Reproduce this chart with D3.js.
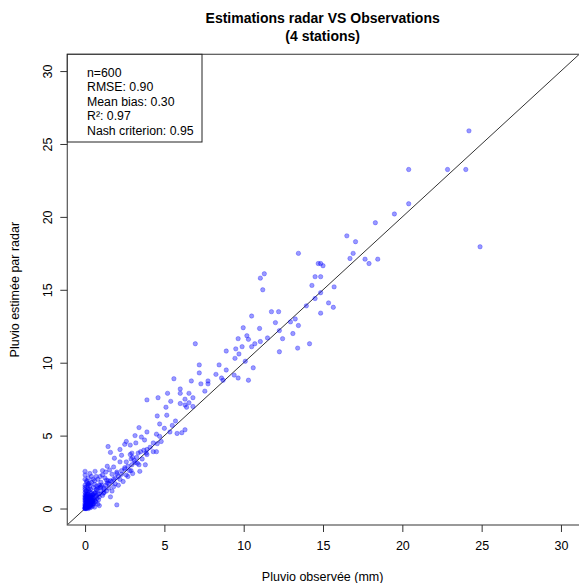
<!DOCTYPE html>
<html>
<head>
<meta charset="utf-8">
<script src="https://cdn.jsdelivr.net/npm/d3@7"></script>
<style>
  body { margin: 0; background: #fff; }
  svg { font-family: "Liberation Sans", Arial, sans-serif; }
</style>
</head>
<body>
<script>
//chart title, axis titles and stats box lines
let titleLines = ["Estimations radar VS Observations", "(4 stations)"];
let xTitle = "Pluvio observée (mm)",
    yTitle = "Pluvio estimée par radar";
let statLines = ["n=600", "RMSE: 0.90", "Mean bias: 0.30", "R²: 0.97", "Nash criterion: 0.95"];

//tick values
let xTicks = [0, 5, 10, 15, 20, 25, 30],
    yTicks = [0, 5, 10, 15, 20, 25, 30];

let obs = [
    24.2, 22.85, 24.0, 20.4, 20.4, 19.5, 18.3, 24.9, 16.5, 17.05, 16.9, 16.7, 17.65, 17.9, 18.45,
    13.45, 14.7, 14.85, 15.0, 14.5, 14.85, 14.3, 15.7, 11.3, 11.05, 11.2, 13.95, 14.5, 14.85, 15.35,
    15.65, 14.85, 11.75, 12.2, 10.5, 12.0, 13.25, 12.95, 13.45, 12.25, 13.1, 11.0, 9.97, 11.5, 12.45,
    14.15, 13.4, 12.25, 9.65, 10.2, 10.3, 10.7, 11.05, 10.5, 9.9, 9.5, 8.9, 9.7, 9.45, 10.1,
    10.6, 10.3, 8.45, 8.9, 8.25, 8.6, 8.7, 9.4, 9.65, 6.95, 7.2, 7.2, 7.75, 7.75, 7.3,
    6.7, 7.55, 6.8, 6.55, 6.0, 6.3, 6.55, 6.4, 5.6, 5.2, 4.6, 6.0,
    3.9, 5.4, 5.1, 6.0, 6.3, 6.8, 4.55, 5.15, 5.7, 4.7, 3.4, 3.9, 6.3, 6.1, 5.8,
    4.5, 4.7, 5.35, 3.15, 3.55, 3.75, 3.2, 2.6, 2.5, 2.85, 4.3, 4.55, 3.9, 3.7, 2.95,
    2.85, 3.35, 3.85, 4.5, 1.45, 1.6, 2.2, 2.3, 1.85, 2.2, 3.25, 3.15, 3.4, 2.95, 3.8,
    3.45, 1.8, 1.55, 2.0, 1.7, 2.3, 2.6, 0.0, 0.0, 0.63, 0.7, 0.95, 1.25, 1.35, 0.27,
    0.52, 1.05, 0.95, 0.74, 1.6, 2.0, 1.15, 1.35, 1.8, 2.1, 2.4,
    2.5, 2.7, 2.9, 3.1, 3.6, 3.9, 4.1, 4.3, 4.8, 5.0, 5.5, 2.2, 1.9, 1.5, 1.2,
    1.0, 0.9, 2.7, 3.0, 1.7, 2.9, 3.3, 0.5, 1.1, 1.4, 0.3, 0.1,
    0, 0, 0, 0, 0, 0, 0, 0, 0, 0, 0.05, 0.05, 0.05, 0.05, 0.05,
    0.05, 0.1, 0.1, 0.1, 0.1, 0.1, 0.1, 0.1, 0.15, 0.15, 0.15, 0.15, 0.2, 0.2, 0.2,
    0.2, 0.2, 0.2, 0.2, 0.25, 0.25, 0.25, 0.25, 0.3, 0.3, 0.3, 0.3, 0.3, 0.3, 0.35,
    0.35, 0.35, 0.4, 0.4, 0.4, 0.4, 0.4, 0.45, 0.45, 0.5, 0.5, 0.5, 0.5, 0.55, 0.6,
    0.6, 0.65, 0.7, 0.75, 0.8, 0.85, 0.9, 1.0, 1.1, 1.2, 0, 0.05, 0.1, 0.15, 0.0,
    0.0, 0.1, 0.2, 0.3, 0.25, 0.35, 0.45, 0.55, 0.65, 0.7, 0.8, 0.0, 0.1, 0.2, 0.3,
    0.4, 0.6, 0.75, 0.9, 1.3, 1.5, 1.45, 1.7, 1.9, 2.1, 0.6, 0.8, 0.9,
    0, 0, 0.05, 0.1, 0.1, 0.15, 0.2, 0.2, 0.25, 0.3, 0.35, 0.4, 0.5, 0.15, 0.05,
    0.25, 0.45, 0.6, 0.7, 0.0, 0.1, 0.3, 0.2, 0.5, 0.35, 1.0, 1.2, 1.4, 1.6, 1.8,
    2.0, 2.3, 2.5, 0.8, 0.6, 1.1, 1.3, 2.6, 2.8, 3.0, 3.5, 0.4, 0.2, 0.1, 0.0
];

//radar estimate (y)
let est = [
    25.9, 23.25, 23.25, 23.25, 20.9, 20.2, 19.6, 17.95, 18.7, 18.3, 17.5, 17.15, 17.1, 16.8, 17.1,
    17.5, 16.8, 16.8, 16.65, 15.9, 15.9, 15.3, 15.2, 16.1, 15.8, 15.0, 13.9, 14.4, 14.8, 14.1,
    13.8, 13.4, 13.5, 13.5, 13.2, 12.75, 13.0, 12.8, 12.55, 12.2, 12.0, 12.35, 12.4, 11.7, 11.65,
    11.3, 11.0, 10.75, 11.65, 11.85, 11.6, 11.3, 11.45, 11.1, 11.1, 10.95, 10.8, 10.6, 10.3, 10.1,
    9.65, 8.8, 9.85, 9.5, 9.2, 8.95, 8.8, 9.15, 8.95, 11.3, 9.85, 9.3, 8.75, 8.55, 8.55,
    8.75, 8.05, 7.6, 7.9, 7.9, 7.5, 7.25, 6.95, 8.9, 7.9, 7.6, 8.2,
    7.45, 7.35, 6.95, 7.2, 7.1, 7.0, 6.35, 6.4, 6.0, 5.8, 5.55, 5.25, 5.4, 5.2, 5.15,
    5.1, 4.95, 5.25, 5.0, 4.9, 4.7, 4.5, 4.6, 4.4, 4.35, 4.5, 4.45, 4.05, 4.0, 3.8,
    3.7, 3.8, 3.8, 3.9, 4.25, 3.85, 4.05, 3.65, 3.45, 3.2, 3.5, 3.15, 3.0, 3.0, 3.0,
    2.55, 2.85, 2.65, 2.5, 2.35, 2.35, 2.3, 2.55, 2.3, 2.55, 2.2, 2.2, 2.1, 1.95, 1.75,
    1.45, 1.6, 1.45, 1.27, 0.8, 0.25, 1.05, 1.2, 1.5, 1.6, 1.85,
    2.7, 2.9, 2.6, 3.3, 3.4, 3.7, 4.2, 3.9, 4.6, 5.5, 5.7, 2.0, 2.1, 1.7, 1.4,
    1.8, 1.0, 2.2, 2.4, 1.2, 3.4, 3.1, 2.0, 2.6, 2.9, 2.4, 1.9,
    0, 0.1, 0.2, 0.35, 0.5, 0.7, 0.9, 1.1, 1.3, 0, 0.05, 0.25, 0.45, 0.6, 0.8,
    1.0, 0, 0.15, 0.3, 0.5, 0.75, 0.95, 1.2, 0.1, 0.4, 0.6, 0.85, 0, 0.2, 0.35,
    0.55, 0.7, 1.0, 1.35, 0.1, 0.3, 0.5, 0.8, 0.05, 0.25, 0.45, 0.65, 0.9, 1.15, 0.2,
    0.4, 0.6, 0.1, 0.35, 0.55, 0.8, 1.05, 0.3, 0.5, 0.2, 0.45, 0.7, 0.95, 0.35, 0.6,
    0.8, 0.5, 0.9, 0.7, 1.0, 0.6, 0.8, 1.2, 0.9, 1.1, 0, 0.15, 0.05, 0.25, 0.6,
    0.8, 0.4, 0.45, 0.35, 0.65, 0.85, 0.75, 1.0, 1.1, 1.3, 1.4, 1.6, 1.5, 1.7, 1.55,
    1.8, 1.65, 1.55, 1.6, 1.6, 1.4, 1.9, 1.85, 1.7, 2.2, 0.1, 0.3, 0.2,
    0.05, 0.25, 0.15, 0.35, 0.6, 0.2, 0.1, 0.5, 0.4, 0.75, 0.3, 0.65, 0.55, 1.0, 1.2,
    1.25, 0.9, 1.05, 0.45, 1.45, 0.85, 0.15, 1.6, 0.3, 1.3, 1.5, 1.3, 1.75, 1.9, 2.0,
    2.4, 2.6, 2.8, 2.0, 1.9, 2.3, 2.5, 3.2, 2.6, 3.5, 3.9, 2.2, 2.1, 1.8, 2.0
];

window.onload = drawChart();

function drawChart() {
    let width = 579,
        height = 583;

    //plot region (R style box)
    let left = 67.3, right = 580, top = 54.3, bottom = 525;

    let svg = d3.select("body")
        .append("svg")
        .attr("width", width)
        .attr("height", height);

    let x = d3.scaleLinear()
        .domain([-1.12, 31.2])
        .range([left, right]);

    let y = d3.scaleLinear()
        .domain([-1.13, 31.15])
        .range([bottom, top]);

    let points = obs.map(function (d, i) { return [d, est[i]]; });

    svg.append("clipPath")
        .attr("id", "plotclip")
        .append("rect")
        .attr("x", left)
        .attr("y", top)
        .attr("width", right - left)
        .attr("height", bottom - top);

    //1:1 line
    svg.append("line")
        .attr("clip-path", "url(#plotclip)")
        .attr("x1", x(-1.12))
        .attr("y1", y(-1.12))
        .attr("x2", x(32))
        .attr("y2", y(32))
        .attr("stroke", "#333")
        .attr("stroke-width", 1);

    //scatter points
    svg.append("g")
        .attr("clip-path", "url(#plotclip)")
        .selectAll("circle")
        .data(points)
        .enter()
        .append("circle")
        .attr("cx", function (d) { return x(d[0]); })
        .attr("cy", function (d) { return y(d[1]); })
        .attr("r", 2.2)
        .attr("fill", "rgb(0,0,255)")
        .attr("fill-opacity", 0.4)
        .attr("stroke", "rgb(0,0,255)")
        .attr("stroke-opacity", 0.4)
        .attr("stroke-width", 0.7);

    //box
    svg.append("rect")
        .attr("x", left)
        .attr("y", top)
        .attr("width", right - left)
        .attr("height", bottom - top)
        .attr("fill", "none")
        .attr("stroke", "#555")
        .attr("stroke-width", 1.2);

    //axes
    let xAxis = svg.append("g")
        .attr("transform", "translate(0," + bottom + ")")
        .call(d3.axisBottom(x).tickValues(xTicks).tickSize(7).tickPadding(10));

    let yAxis = svg.append("g")
        .attr("transform", "translate(" + left + ",0)")
        .call(d3.axisLeft(y).tickValues(yTicks).tickSize(7).tickPadding(10));

    [xAxis, yAxis].forEach(function (ax) {
        ax.select(".domain").remove();
        ax.selectAll(".tick line").attr("stroke", "#333");
        ax.selectAll(".tick text")
            .attr("fill", "#000")
            .style("font-size", "12.5px")
            .style("font-family", "'Liberation Sans', Arial, sans-serif");
    });

    //rotated y tick labels like R
    yAxis.selectAll(".tick text")
        .attr("x", null)
        .attr("dy", null)
        .attr("text-anchor", "middle")
        .attr("transform", "translate(-20,0) rotate(-90)")
        .attr("dy", "0.35em");

    xAxis.selectAll(".tick text")
        .attr("y", 16)
        .attr("dy", "0.71em");

    //titles
    svg.selectAll(".title")
        .data(titleLines)
        .enter()
        .append("text")
        .attr("class", "title")
        .attr("x", (left + right) / 2 - 1)
        .attr("y", function (d, i) { return 23 + i * 17.5; })
        .attr("text-anchor", "middle")
        .style("font-size", "14px")
        .style("font-weight", "bold")
        .text(function (d) { return d; });

    svg.append("text")
        .attr("x", (left + right) / 2 - 1)
        .attr("y", 581)
        .attr("text-anchor", "middle")
        .style("font-size", "12.5px")
        .text(xTitle);

    svg.append("text")
        .attr("transform", "translate(15," + (top + bottom) / 2 + ") rotate(-90)")
        .attr("dy", "0.35em")
        .attr("text-anchor", "middle")
        .style("font-size", "12.5px")
        .text(yTitle);

    //stats box
    svg.append("rect")
        .attr("x", left)
        .attr("y", top)
        .attr("width", 202 - left)
        .attr("height", 142 - top)
        .attr("fill", "#fff")
        .attr("stroke", "#222")
        .attr("stroke-width", 1);

    svg.selectAll(".stat")
        .data(statLines)
        .enter()
        .append("text")
        .attr("class", "stat")
        .attr("x", 87)
        .attr("y", function (d, i) { return 77 + i * 14.4; })
        .style("font-size", "12.3px")
        .text(function (d) { return d; });
}
</script>
</body>
</html>
